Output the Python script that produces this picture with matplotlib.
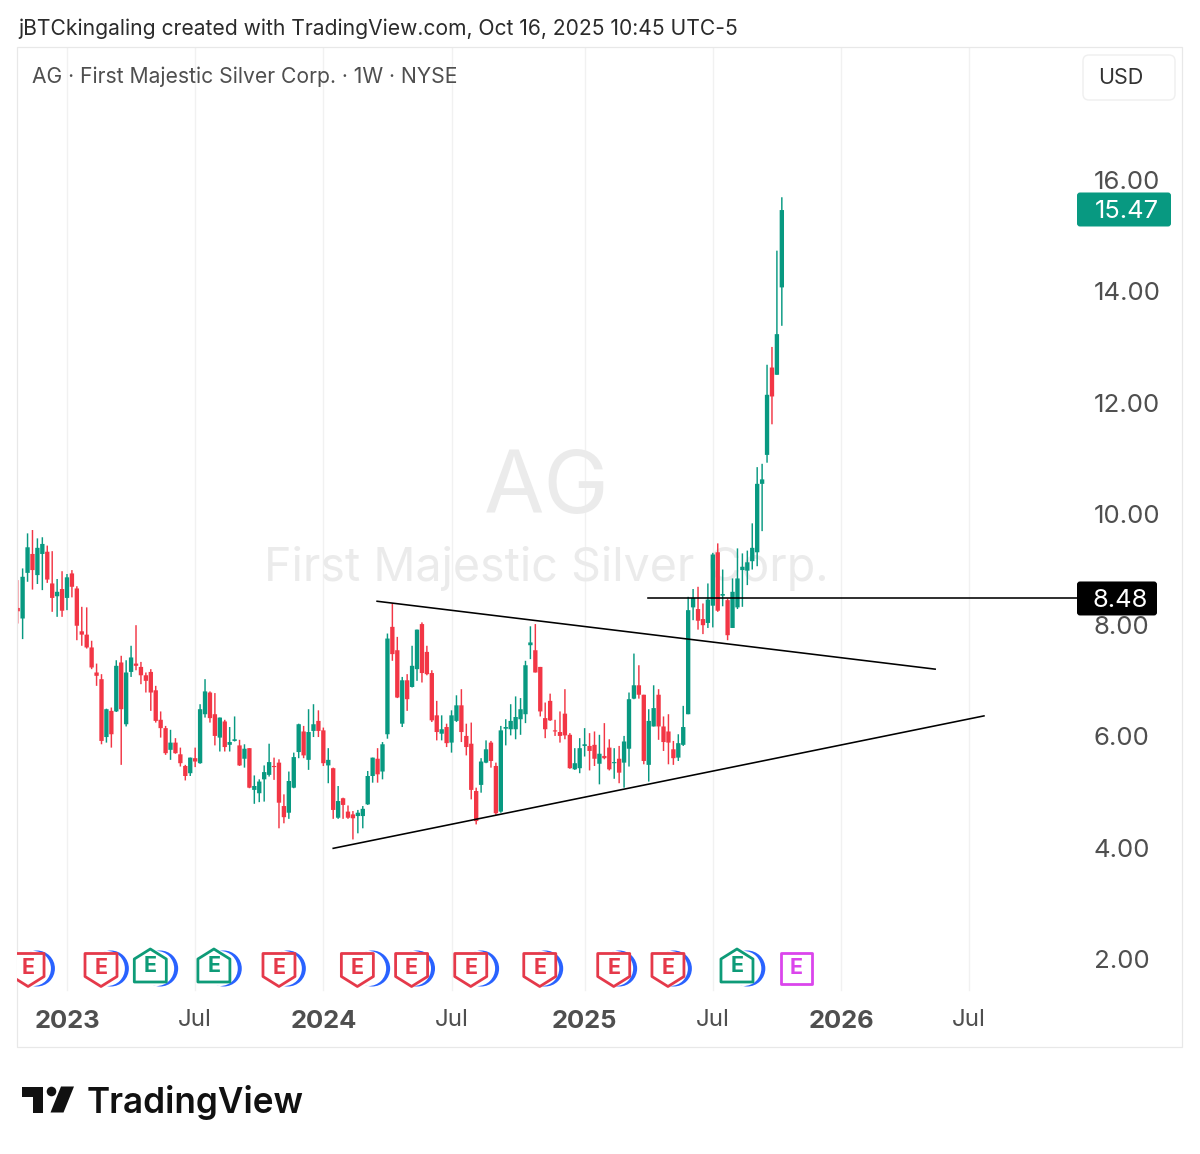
import numpy as np
import matplotlib
matplotlib.use('Agg')
import matplotlib.pyplot as plt
from matplotlib.patches import Circle, FancyBboxPatch, Polygon, Rectangle

plt.rcParams['font.family'] = ['Inter', 'DejaVu Sans']

# Weekly candles, first one sits on the left edge of the frame.
first_week = -10
opens = [8.31, 8.12, 8.94, 9.28, 8.90, 9.28, 9.32, 8.75, 8.52, 8.65,
         8.49, 8.93, 8.66, 7.89, 7.83, 7.60, 7.15, 7.03, 5.99, 6.46,
         6.45, 7.33, 6.22, 7.16, 7.31, 7.25, 7.10, 7.16, 6.83, 6.30,
         6.15, 5.76, 5.89, 5.68, 5.47, 5.34, 5.61, 5.52, 6.40, 6.79,
         6.40, 5.98, 6.27, 5.85, 5.92, 5.84, 5.60, 5.79, 5.04, 4.98,
         5.23, 5.31, 5.47, 5.53, 4.75, 4.63, 5.08, 5.72, 6.09, 5.58,
         6.10, 6.28, 6.11, 5.48, 5.43, 4.54, 4.89, 4.65, 4.60, 4.57,
         4.57, 4.78, 5.29, 5.60, 5.37, 6.04, 7.97, 7.55, 6.23, 7.01,
         6.89, 7.21, 8.02, 7.52, 7.14, 6.38, 6.05, 6.17, 5.89, 6.28,
         6.56, 6.01, 5.87, 5.02, 5.13, 5.53, 5.89, 5.47, 4.65, 6.14,
         6.13, 6.13, 6.31, 6.40, 7.64, 7.55, 7.25, 6.33, 6.64, 6.11,
         6.08, 6.41, 6.03, 5.41, 5.43, 5.83, 5.83, 5.85, 5.51, 5.65,
         5.80, 5.52, 5.60, 5.53, 5.78, 6.68, 6.92, 6.75, 5.49, 6.18,
         6.75, 6.18, 6.09, 5.77, 5.62, 5.85, 6.40, 8.32, 8.29, 8.11,
         8.04, 8.35, 9.31, 8.53, 8.45, 7.95, 8.32, 8.99, 8.98, 9.15,
         9.31, 10.54, 11.06, 12.63, 12.50, 14.07]
closes = [8.25, 8.87, 9.40, 8.99, 9.39, 9.46, 8.82, 8.49, 8.60, 8.26,
          8.86, 8.69, 7.99, 7.83, 7.60, 7.24, 7.09, 5.92, 6.49, 6.04,
          7.27, 6.49, 7.15, 7.42, 7.27, 7.10, 7.00, 6.79, 6.28, 6.15,
          5.70, 5.89, 5.70, 5.52, 5.29, 5.62, 5.55, 6.49, 6.81, 6.33,
          6.01, 6.34, 5.81, 5.90, 5.95, 5.48, 5.78, 5.08, 5.11, 5.19,
          5.36, 5.54, 5.45, 4.81, 4.55, 5.20, 5.63, 6.22, 5.66, 6.08,
          6.22, 6.10, 5.52, 5.58, 4.68, 4.84, 4.77, 4.54, 4.53, 4.63,
          4.70, 5.29, 5.62, 5.32, 5.86, 7.76, 7.48, 6.70, 7.01, 6.67,
          7.27, 7.92, 7.14, 7.12, 6.29, 6.08, 6.13, 5.88, 6.38, 6.56,
          6.08, 5.81, 5.04, 4.48, 5.55, 5.77, 5.56, 4.62, 6.11, 6.17,
          6.28, 6.35, 6.49, 7.28, 7.69, 7.15, 6.45, 6.13, 6.29, 6.09,
          6.01, 6.02, 5.43, 5.52, 5.79, 5.86, 5.74, 5.60, 5.69, 5.61,
          5.41, 5.54, 5.35, 5.91, 6.67, 6.92, 6.75, 5.56, 6.28, 6.51,
          6.18, 5.90, 5.89, 5.61, 5.88, 6.17, 8.27, 8.49, 8.08, 8.00,
          8.46, 9.27, 8.26, 8.56, 7.82, 8.60, 8.84, 9.05, 9.13, 9.39,
          10.54, 10.62, 12.14, 12.11, 13.23, 15.46]
highs = [8.81, 9.02, 9.65, 9.71, 9.56, 9.58, 9.43, 9.33, 8.83, 8.97,
         8.92, 8.99, 8.70, 8.33, 8.32, 7.72, 7.31, 7.12, 6.50, 6.52,
         7.37, 7.45, 7.37, 7.63, 8.00, 7.34, 7.15, 7.21, 6.91, 6.45,
         6.19, 6.12, 5.97, 5.80, 5.49, 5.62, 5.80, 6.58, 7.03, 6.81,
         6.78, 6.34, 6.30, 6.17, 6.36, 5.94, 5.86, 5.79, 5.30, 5.23,
         5.48, 5.87, 5.62, 5.59, 4.96, 5.37, 5.71, 6.23, 6.19, 6.49,
         6.58, 6.47, 6.16, 5.79, 5.44, 5.11, 4.90, 4.76, 4.66, 4.68,
         4.75, 5.38, 5.62, 5.79, 5.90, 7.85, 8.39, 7.79, 7.07, 7.12,
         7.63, 7.92, 8.05, 7.63, 7.19, 6.64, 6.38, 6.23, 6.47, 6.74,
         6.85, 6.23, 6.25, 5.08, 5.61, 5.93, 5.92, 5.53, 6.19, 6.31,
         6.58, 6.72, 6.69, 7.36, 7.98, 8.02, 7.25, 6.61, 6.77, 6.30,
         6.45, 6.85, 6.06, 5.79, 5.97, 6.15, 6.06, 6.09, 6.03, 6.24,
         5.95, 5.79, 5.83, 6.01, 6.79, 7.49, 7.28, 6.75, 6.49, 6.92,
         6.85, 6.36, 6.40, 5.92, 6.04, 6.55, 8.51, 8.65, 8.69, 8.39,
         8.75, 9.30, 9.47, 9.00, 8.48, 8.84, 9.38, 9.29, 9.34, 9.83,
         10.84, 10.90, 12.68, 13.00, 14.73, 15.69]
lows = [8.03, 7.75, 8.78, 8.64, 8.74, 8.63, 8.76, 8.24, 8.15, 8.15,
        8.27, 8.50, 7.73, 7.63, 7.58, 7.21, 6.91, 5.86, 5.89, 5.80,
        6.44, 5.49, 6.18, 7.07, 7.19, 6.94, 6.79, 6.46, 6.25, 5.98,
        5.67, 5.58, 5.69, 5.46, 5.21, 5.29, 5.45, 5.51, 6.34, 6.25,
        5.84, 5.73, 5.73, 5.73, 5.91, 5.47, 5.44, 5.07, 4.79, 4.82,
        4.83, 5.28, 5.22, 4.35, 4.44, 4.52, 5.07, 5.61, 5.61, 5.40,
        5.99, 5.99, 5.47, 5.16, 4.52, 4.52, 4.52, 4.52, 4.15, 4.26,
        4.35, 4.77, 5.17, 5.17, 5.23, 5.96, 7.36, 6.69, 6.17, 6.46,
        6.88, 7.00, 6.97, 7.10, 6.26, 5.93, 5.93, 5.81, 5.71, 6.26,
        5.90, 5.66, 4.87, 4.42, 4.99, 5.52, 5.44, 4.59, 4.63, 5.84,
        6.02, 5.95, 6.03, 6.24, 7.39, 7.15, 6.36, 5.97, 6.28, 6.01,
        5.89, 5.95, 5.42, 5.40, 5.34, 5.64, 5.39, 5.47, 5.14, 5.59,
        5.39, 5.24, 5.16, 5.08, 5.46, 6.67, 6.68, 5.50, 5.19, 6.18,
        5.94, 5.74, 5.50, 5.49, 5.56, 5.83, 6.40, 8.09, 7.92, 7.84,
        7.95, 7.96, 8.24, 8.34, 7.73, 7.95, 8.29, 8.33, 8.72, 9.00,
        9.06, 9.69, 10.92, 11.61, 12.50, 13.38]

# Axis ticks
price_ticks = [2, 4, 6, 8, 10, 12, 14, 16]
time_ticks = [0, 26, 52, 78, 105, 131, 157, 183]
time_labels = ['2023', 'Jul', '2024', 'Jul', '2025', 'Jul', '2026', 'Jul']

# Drawn lines: (week, price) at both ends
resistance = ([62.9, 176.1], [8.43, 7.21])
support = ([54.0, 186.0], [3.99, 6.37])
level_weeks = [117.8, 204.9]
level_price = 8.48
last_price = 15.47

# Earnings flags along the bottom, dividend arcs behind them
earnings_weeks = [-7.9, 6.9, 16.9, 29.8, 43.0, 58.9, 69.9, 81.9, 95.9, 110.9, 121.9, 135.9, 148.0]
earnings_kinds = ['miss', 'miss', 'beat', 'beat', 'miss', 'miss', 'miss', 'miss', 'miss', 'miss', 'miss', 'beat', 'next']
dividend_weeks = [-6.1, 8.9, 18.9, 31.8, 44.8, 61.9, 71.0, 84.0, 97.0, 112.0, 123.1, 138.0]

GREEN = '#089981'
RED = '#F23645'
TEXT = '#4f4f4f'
GRID = '#f1f1f1'
BORDER = '#e8e8e8'

fig = plt.figure(figsize=(12, 11.54), dpi=100, facecolor='white')

# The main axes fill the framed area, ticks are pulled inside it.
ax = fig.add_axes([17 / 1200, 1 - 1047 / 1154, 1165 / 1200, 1000 / 1154])
ax.set_xlim(-10.14, 226.17)
ax.set_ylim(0.42, 18.39)
for side in ax.spines.values():
    side.set_visible(False)

weeks = first_week + np.arange(len(opens))
opens = np.array(opens)
closes = np.array(closes)
colors = [GREEN if c >= o else RED for o, c in zip(opens, closes)]

for w in time_ticks:
    ax.axvline(w, ymin=0.057, color=GRID, lw=1.0, zorder=0)

ax.text(0.4545, 0.557, 'AG', transform=ax.transAxes, ha='center', va='center',
        fontsize=63, color='#ebebeb', zorder=1)
ax.text(0.4545, 0.4785, 'First Majestic Silver Corp.', transform=ax.transAxes, ha='center', va='center',
        fontsize=33.5, color='#ebebeb', zorder=1)

wicks = ax.vlines(weeks, lows, highs, colors=colors, lw=1.05, zorder=3)
wicks.set_snap(False)
bodies = ax.bar(weeks, closes - opens, bottom=opens, width=0.88, color=colors, linewidth=0, zorder=4)
for body in bodies:
    body.set_snap(False)

ax.plot(*resistance, color='black', lw=1.15, zorder=5)
ax.plot(*support, color='black', lw=1.15, zorder=5)
ax.plot(level_weeks, [level_price, level_price], color='black', lw=1.15, zorder=5)

ax.yaxis.tick_right()
ax.set_yticks(price_ticks)
ax.set_yticklabels(['%.2f' % p for p in price_ticks])
ax.tick_params(axis='y', length=0, pad=-63.5, labelsize=18.6, labelcolor=TEXT)
ax.set_xticks(time_ticks)
ax.set_xticklabels(time_labels)
ax.tick_params(axis='x', length=0, pad=-27, labelsize=17.4, labelcolor=TEXT)
for label in ax.get_xticklabels():
    if label.get_text() != 'Jul':
        label.set_fontweight('bold')
        label.set_fontsize(18.4)

# Overlay in pixel coordinates for frame, tags, flags and logo
ov = fig.add_axes([0, 0, 1, 1], facecolor='none')
ov.set_xlim(0, 1200)
ov.set_ylim(1154, 0)
ov.axis('off')


def week_x(w):
    return ax.transData.transform((w, 0))[0]


def price_y(p):
    return 1154 - ax.transData.transform((0, p))[1]


ov.add_patch(Rectangle((17, 47), 1165, 1000, fc='none', ec=BORDER, lw=0.9))

ov.text(18, 29, 'jBTCkingaling created with TradingView.com, Oct 16, 2025 10:45 UTC-5',
        fontsize=15.15, color='#2b2b2b', va='center', ha='left')
ov.text(32, 77, 'AG · First Majestic Silver Corp. · 1W · NYSE',
        fontsize=15.2, color=TEXT, va='center', ha='left')

ov.add_patch(FancyBboxPatch((1086, 58), 86, 39, boxstyle='round,pad=3,rounding_size=6',
                            fc='white', ec='#efefef', lw=1.0))
ov.text(1121, 78, 'USD', fontsize=15.5, color='#333333', ha='center', va='center')

# Price tags on the right
for price, fc, x1 in [(last_price, GREEN, 1171), (level_price, 'black', 1157)]:
    yc = price_y(price)
    ov.add_patch(FancyBboxPatch((1077, yc - 17), x1 - 1077, 34, boxstyle='round,pad=0,rounding_size=3',
                                fc=fc, ec='none', zorder=6))
    ov.text((1077 + x1) / 2 + 3 if fc == GREEN else (1077 + x1) / 2 + 3, yc, '%.2f' % price, fontsize=18.4,
            color='white', ha='center', va='center_baseline', zorder=7)

# Earnings row
clip = Rectangle((17, 47), 1165, 1000, transform=ov.transData)
row_y = 968.5
for w in dividend_weeks:
    cx = week_x(w)
    blue = Circle((cx, row_y), 18, fc='#2962FF', ec='none', zorder=2)
    hole = Circle((cx - 3.5, row_y), 17.5, fc='white', ec='none', zorder=2)
    ov.add_patch(blue)
    ov.add_patch(hole)
    blue.set_clip_path(clip)
    hole.set_clip_path(clip)

kind_color = {'miss': '#E5394A', 'beat': '#0E9B78', 'next': '#DB45EC'}
for w, kind in zip(earnings_weeks, earnings_kinds):
    cx = week_x(w)
    if kind == 'miss':
        shape = [(-16, -15), (16, -15), (16, 8), (0, 18), (-16, 8)]
    elif kind == 'beat':
        shape = [(-16, -8), (0, -18), (16, -8), (16, 15), (-16, 15)]
    else:
        shape = [(-15.5, -15.5), (15.5, -15.5), (15.5, 15.5), (-15.5, 15.5)]
    dy = 0 if kind != 'beat' else -1.5
    icon = Polygon([(cx + a, row_y + b + dy) for a, b in shape], closed=True, fc='white',
                   ec=kind_color[kind], lw=2.0, joinstyle='round', zorder=3)
    ov.add_patch(icon)
    icon.set_clip_path(clip)
    ov.text(cx, row_y + dy - 0.5, 'E', fontsize=15.5, fontweight='bold', color=kind_color[kind],
            ha='center', va='center', zorder=4, clip_on=True, clip_path=clip)

# TradingView logo
ov.add_patch(Polygon([(21.5, 1086.5), (42.5, 1086.5), (42.5, 1112.5), (32.5, 1112.5),
                      (32.5, 1096.5), (21.5, 1096.5)], closed=True, fc='#111111', ec='none'))
ov.add_patch(Circle((51.5, 1091.5), 4.8, fc='#111111', ec='none'))
ov.add_patch(Polygon([(61, 1086.5), (74, 1086.5), (63.5, 1112.5), (50.5, 1112.5)], closed=True, fc='#111111', ec='none'))
ov.text(87, 1112.5, 'TradingView', fontsize=25.3, fontweight='semibold', color='#111111', ha='left', va='baseline')

fig.savefig('out.png', dpi=100, facecolor='white')
